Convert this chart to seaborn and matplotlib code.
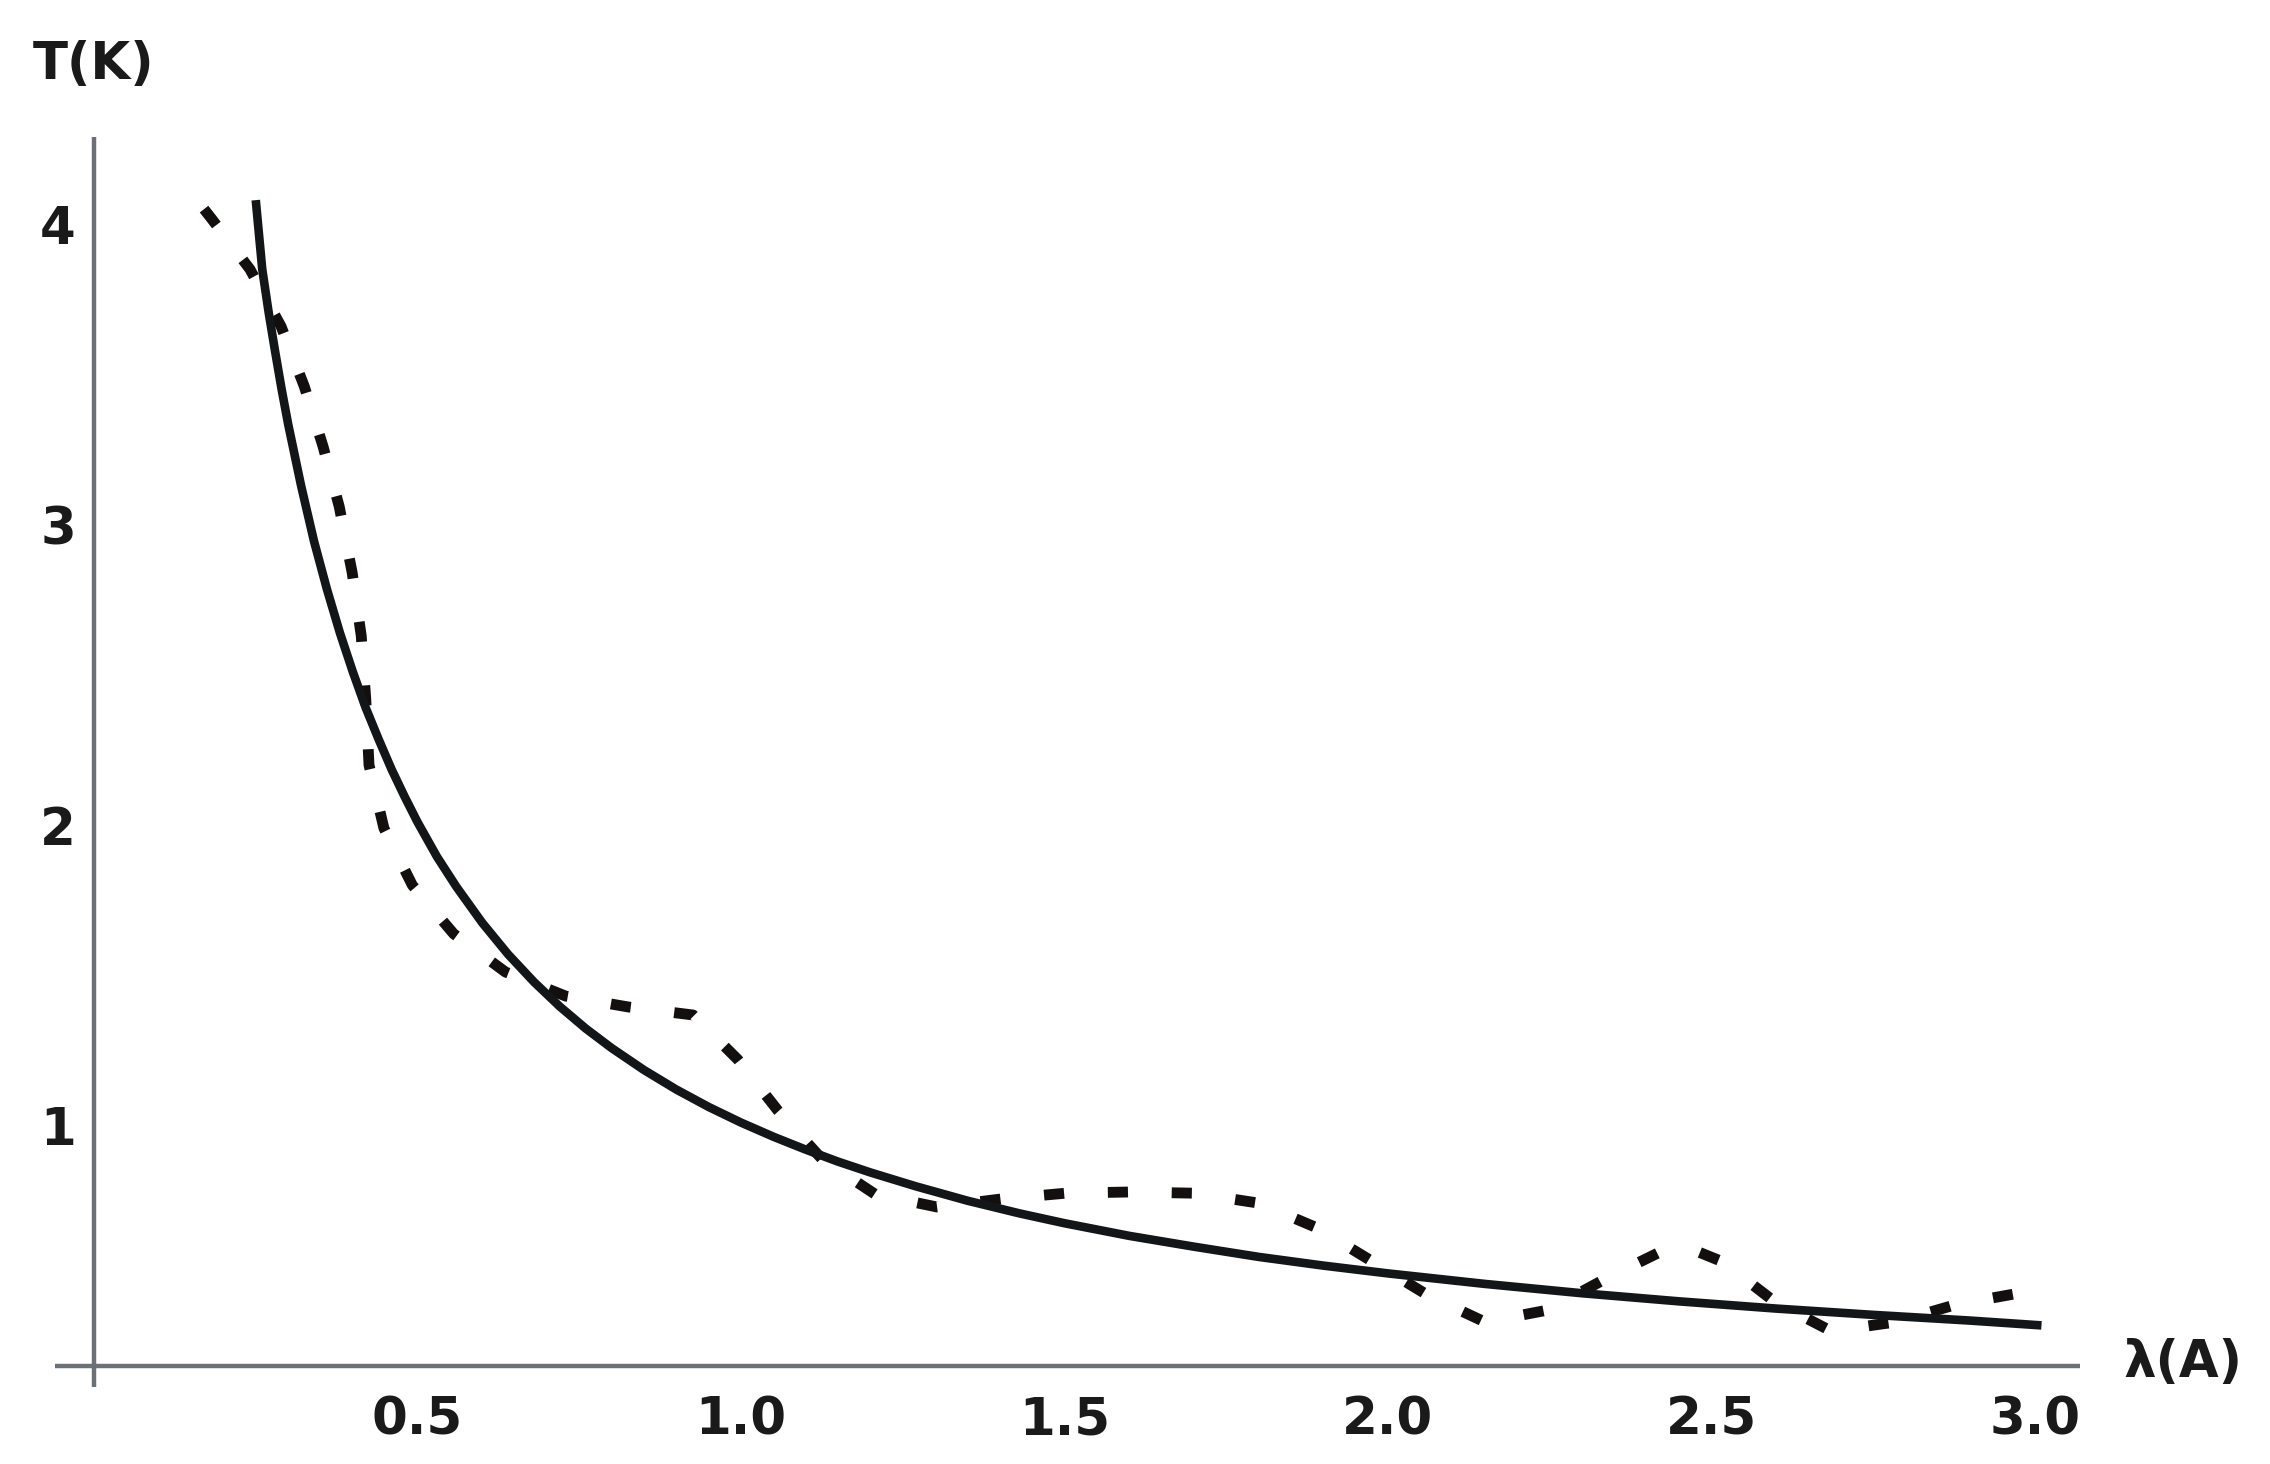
import numpy as np
import pandas as pd
import matplotlib
matplotlib.use("Agg")
import matplotlib.pyplot as plt
import seaborn as sns

# ---- data ----
solid_lambda = [0.250, 0.260, 0.270, 0.280, 0.290, 0.300, 0.320, 0.340, 0.360, 0.380,
                0.400, 0.420, 0.440, 0.460, 0.480, 0.500, 0.530, 0.560, 0.600, 0.640,
                0.680, 0.720, 0.760, 0.800, 0.850, 0.900, 0.950, 1.000, 1.050, 1.100,
                1.150, 1.200, 1.270, 1.350, 1.430, 1.500, 1.600, 1.700, 1.800, 1.900,
                2.000, 2.150, 2.300, 2.450, 2.600, 2.750, 2.900, 3.010]
solid_T = [4.080, 3.850, 3.705, 3.575, 3.450, 3.335, 3.130, 2.945, 2.785, 2.640,
           2.510, 2.390, 2.285, 2.185, 2.095, 2.010, 1.895, 1.795, 1.675, 1.570,
           1.478, 1.396, 1.323, 1.258, 1.185, 1.120, 1.062, 1.010, 0.963, 0.920,
           0.880, 0.844, 0.798, 0.750, 0.708, 0.675, 0.633, 0.597, 0.563, 0.534,
           0.508, 0.473, 0.442, 0.415, 0.391, 0.370, 0.351, 0.335]

dashed_lambda = [0.170, 0.181, 0.241, 0.289, 0.325, 0.354, 0.379, 0.399, 0.413, 0.420,
                 0.425, 0.448, 0.492, 0.556, 0.636, 0.729, 0.825, 0.926, 0.995, 1.057,
                 1.125, 1.207, 1.303, 1.403, 1.502, 1.601, 1.700, 1.800, 1.891, 1.977,
                 2.061, 2.150, 2.247, 2.336, 2.424, 2.470, 2.518, 2.598, 2.685, 2.784,
                 2.879, 2.977, 2.990]
dashed_T = [4.05, 4.02, 3.85, 3.66, 3.46, 3.26, 3.06, 2.84, 2.63, 2.42,
            2.20, 1.99, 1.80, 1.638, 1.511, 1.431, 1.395, 1.368, 1.22, 1.05,
            0.889, 0.772, 0.729, 0.756, 0.775, 0.779, 0.775, 0.742, 0.659, 0.546,
            0.436, 0.346, 0.386, 0.490, 0.583, 0.588, 0.546, 0.413, 0.316, 0.346,
            0.405, 0.443, 0.445]

x_major = [0.5, 1.0, 1.5, 2.0, 2.5, 3.0]
x_labels = ["0.5", "1.0", "1.5", "2.0", "2.5", "3.0"]
y_major = [1, 2, 3, 4]
y_labels = ["1", "2", "3", "4"]
x_minor = [0.1, 0.2, 0.3, 0.4, 0.6, 0.7, 0.8, 0.9, 1.1, 1.2, 1.3, 1.4, 1.6, 1.7, 1.8, 1.9,
           2.1, 2.2, 2.3, 2.4, 2.6, 2.7, 2.8, 2.9]
y_minor = [0.4, 0.6, 0.8, 1.2, 1.4, 1.6, 1.8, 2.2, 2.4, 2.6, 2.8, 3.2, 3.4, 3.6, 3.8, 4.2]

# ---- style ----
sns.set_style("white")
plt.rcParams["font.family"] = ["DejaVu Sans"]
plt.rcParams["lines.scale_dashes"] = False

axis_color = "#6a7075"
text_color = "#1a1a1a"

fig = plt.figure(figsize=(22.7, 14.64), dpi=100)
ax = fig.add_axes([0.02432, 0.0526, 0.8921, 0.8538])

solid_df = pd.DataFrame({"lam": solid_lambda, "T": solid_T})
dashed_df = pd.DataFrame({"lam": dashed_lambda, "T": dashed_T})

sns.lineplot(data=dashed_df, x="lam", y="T", ax=ax, sort=False, estimator=None,
             color="#140f0f", linewidth=7.8)
sns.lineplot(data=solid_df, x="lam", y="T", ax=ax, sort=False, estimator=None,
             color="#121618", linewidth=6.2)

dline, sline = ax.lines[0], ax.lines[1]
dline.set_linestyle((0, (14.5, 31.5)))
dline.set_dash_capstyle("butt")
dline.set_dash_joinstyle("round")
sline.set_solid_capstyle("butt")
sline.set_solid_joinstyle("round")

ax.set_xlim(-0.06, 3.07)
ax.set_ylim(0.13, 4.29)

for s in ["top", "right"]:
    ax.spines[s].set_visible(False)
ax.spines["left"].set_position(("data", 0))
ax.spines["bottom"].set_position(("data", 0.2))
for s in ["left", "bottom"]:
    ax.spines[s].set_color(axis_color)
    ax.spines[s].set_linewidth(3.2)
    ax.spines[s].set_capstyle("butt")

ax.set_xticks(x_major)
ax.set_xticklabels(x_labels)
ax.set_xticks(x_minor, minor=True)
ax.set_yticks(y_major)
ax.set_yticklabels(y_labels)
ax.set_yticks(y_minor, minor=True)

ax.tick_params(axis="both", which="both", direction="in", color=axis_color,
               width=2.8, labelcolor=text_color, labelsize=37)
ax.tick_params(axis="both", which="major", length=19)
ax.tick_params(axis="both", which="minor", length=12.5)
ax.tick_params(axis="x", which="major", pad=21)
ax.tick_params(axis="y", which="major", pad=13)
for lab in ax.get_xticklabels() + ax.get_yticklabels():
    lab.set_fontweight("bold")

ax.set_xlabel("")
ax.set_ylabel("")
ax.grid(False)

fig.text(94 / 2270, 1 - 65 / 1464, "T(K)", ha="center", va="center",
         fontsize=37, fontweight="bold", color=text_color)
fig.text(2183 / 2270, 1 - 1363 / 1464, "λ(A)", ha="center", va="center",
         fontsize=37, fontweight="bold", color=text_color)

fig.savefig("out.png", dpi=100, facecolor="white")
